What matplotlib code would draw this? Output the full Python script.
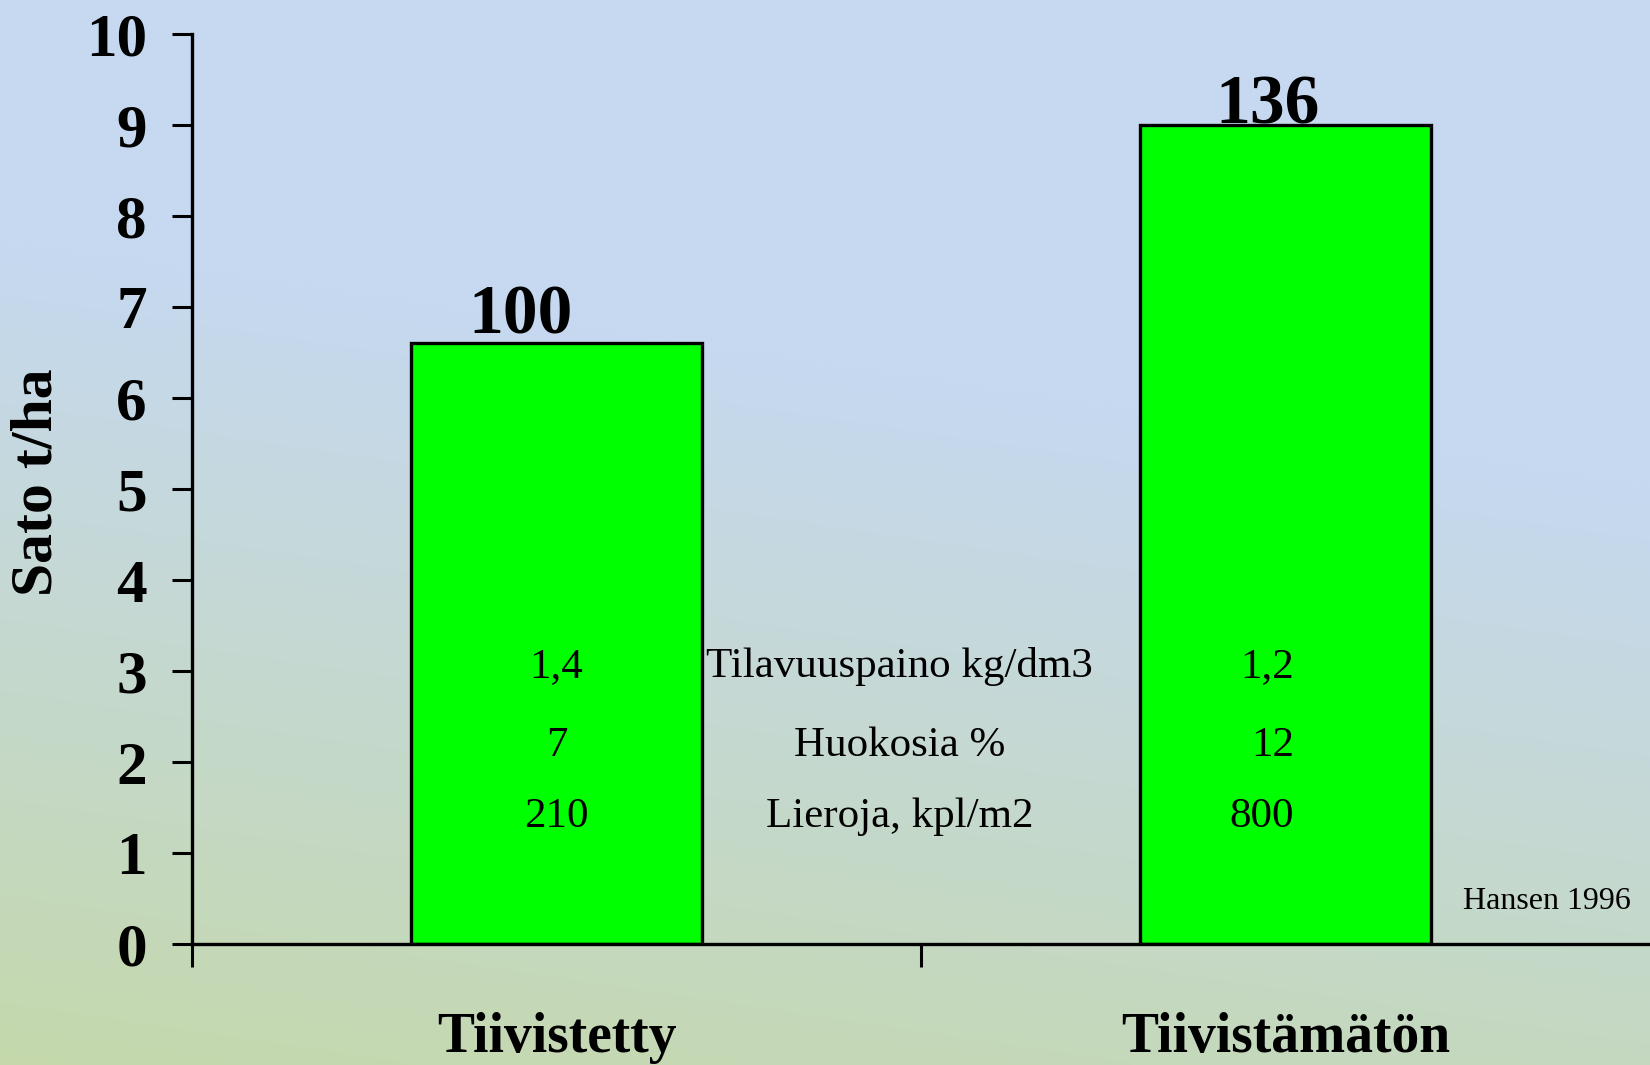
import numpy as np
import matplotlib
matplotlib.use('Agg')
import matplotlib.pyplot as plt
from matplotlib.transforms import blended_transform_factory

# Yield (t/ha) for compacted vs. uncompacted soil
categories = ['Tiivistetty', 'Tiivistämätön']
yields = [6.6, 9.0]
index_labels = ['100', '136']

# Soil properties shown inside the chart
property_names = ['Tilavuuspaino kg/dm3', 'Huokosia %', 'Lieroja, kpl/m2']
compacted_values = ['1,4', '7', '210']
uncompacted_values = ['1,2', '12', '800']
property_rows = [3.05, 2.18, 1.40]

yticks = list(range(0, 11))
source = 'Hansen 1996'

plt.rcParams['font.family'] = ['Liberation Serif', 'DejaVu Serif']

W, H = 1650, 1065
fig = plt.figure(figsize=(W / 100, H / 100), dpi=100)

# background gradient: blue at top right fading to pale green at bottom left
bg = fig.add_axes([0, 0, 1, 1], zorder=-10)
bg.axis('off')
xx, yy = np.meshgrid(np.linspace(0, 1, 330), np.linspace(0, 1, 213))
t = np.clip(1.3 * yy + 0.3 * (1 - xx) - 0.6, 0, 1)[..., None]
top = np.array([198, 217, 240]) / 255
bottom = np.array([196, 216, 172]) / 255
bg.imshow(top * (1 - t) + bottom * t, aspect='auto', extent=[0, 1, 0, 1],
          interpolation='bilinear')
bg.set_xlim(0, 1)
bg.set_ylim(0, 1)

ax = fig.add_axes([192 / W, 121 / H, (W - 192) / W, 910 / H])
ax.patch.set_alpha(0)

x = np.arange(len(categories)) + 0.5
ax.bar(x, yields, width=0.4, color='#00ff00', edgecolor='black', linewidth=2.4, zorder=2)

ax.set_xlim(0, 2)
ax.set_ylim(0, 10)
ax.set_yticks(yticks)
ax.set_yticklabels([str(v) for v in yticks], fontsize=44, fontweight='bold')
ax.tick_params(axis='y', direction='out', length=14.5, width=2.2, pad=18)
ax.set_xticks([0, 1])
ax.set_xticklabels([])
ax.tick_params(axis='x', direction='out', length=16.5, width=2.2)

for side in ['top', 'right']:
    ax.spines[side].set_visible(False)
for side in ['left', 'bottom']:
    ax.spines[side].set_linewidth(2.4)

# index values above bars
label_x = [0.451, 1.475]
label_gap = [0.11, 0.02]
for lx, h, g, lab in zip(label_x, yields, label_gap, index_labels):
    ax.text(lx, h + g, lab, ha='center', va='baseline', fontsize=50, fontweight='bold')

# soil property table
for name, cv, uv, ry in zip(property_names, compacted_values, uncompacted_values, property_rows):
    ax.text(0.5, ry, cv, ha='center', va='center', fontsize=31)
    ax.text(0.971, ry, name, ha='center', va='center', fontsize=31)
    ax.text(1.512, ry, uv, ha='right', va='center', fontsize=31)

ax.text(1.743, 0.47, source, ha='left', va='center', fontsize=23)

# category names below the axis
trans = blended_transform_factory(ax.transData, ax.transAxes)
for cx, cat in zip(x, categories):
    ax.text(cx, -0.119, cat, transform=trans, ha='center', va='baseline',
            fontsize=40, fontweight='bold', clip_on=False)

fig.text(38 / W, 1 - 482 / H, 'Sato t/ha', rotation=90, ha='center', va='center',
         fontsize=43, fontweight='bold')

fig.savefig('out.png', dpi=100)
